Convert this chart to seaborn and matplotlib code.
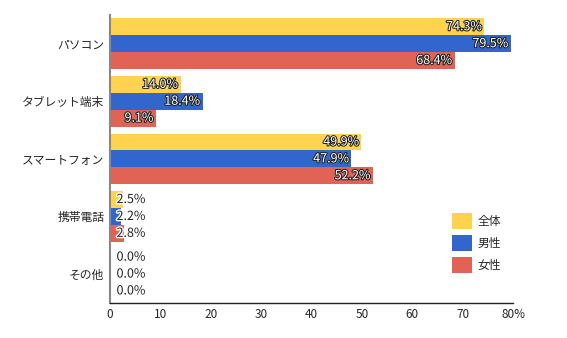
import matplotlib
matplotlib.use("Agg")
import matplotlib.pyplot as plt
import matplotlib.patheffects as pe
import seaborn as sns
import pandas as pd

categories = ["パソコン", "タブレット端末", "スマートフォン", "携帯電話", "その他"]
series_names = ["全体", "男性", "女性"]
total = [74.3, 14.0, 49.9, 2.5, 0.0]
male = [79.5, 18.4, 47.9, 2.2, 0.0]
female = [68.4, 9.1, 52.2, 2.8, 0.0]
x_ticks = [0, 10, 20, 30, 40, 50, 60, 70, 80]
x_tick_labels = ["0", "10", "20", "30", "40", "50", "60", "70", "80%"]
colors = ["#FFD24F", "#3366CC", "#E06356"]

sns.set_style("white")
plt.rcParams["font.family"] = ["Noto Sans CJK JP", "DejaVu Sans"]

rows = []
for name, vals in zip(series_names, [total, male, female]):
    for cat, v in zip(categories, vals):
        rows.append({"category": cat, "series": name, "value": v})
df = pd.DataFrame(rows)

fig = plt.figure(figsize=(5.67, 3.38), dpi=100)
ax = fig.add_axes([0.194, 0.104, 0.711, 0.852])

sns.barplot(data=df, y="category", x="value", hue="series", order=categories,
            hue_order=series_names, palette=colors, orient="h", width=0.88,
            saturation=1, edgecolor="none", ax=ax, legend=True)

ax.set_xlim(0, 80)
ax.set_ylim(4.5, -0.5)
ax.set_xticks(x_ticks)
ax.set_xticklabels(x_tick_labels, fontsize=8.5)
ax.set_xlabel("")
ax.set_ylabel("")
ax.tick_params(axis="y", length=0, labelsize=8.5, pad=4)
ax.tick_params(axis="x", direction="in", length=6, width=1, color="#333333", pad=4)
for s in ["top", "right"]:
    ax.spines[s].set_visible(False)
ax.spines["bottom"].set_color("#222222")
ax.spines["bottom"].set_linewidth(1)
ax.spines["left"].set_color("#888888")
ax.spines["left"].set_linewidth(1.5)

inside_fx = [pe.withStroke(linewidth=1.5, foreground="#222222")]
outside_fx = [pe.withStroke(linewidth=2, foreground="white")]
for container in ax.containers:
    for bar in container:
        v = bar.get_width()
        yc = bar.get_y() + bar.get_height() / 2
        label = f"{v:.1f}%"
        if v >= 5:
            ax.text(v - 0.5, yc, label, ha="right", va="center", fontsize=9,
                    color="white", path_effects=inside_fx)
        else:
            ax.text(1.3, yc, label, ha="left", va="center", fontsize=9,
                    color="#222222", path_effects=outside_fx)

handles, labels = ax.get_legend_handles_labels()
ax.legend(handles, labels, loc="upper left", bbox_to_anchor=(0.836, 0.33),
          frameon=False, fontsize=8.5, handlelength=1.75, handleheight=1.75,
          labelspacing=0.5, handletextpad=0.45, borderaxespad=0)

fig.savefig("out.png", dpi=100)
